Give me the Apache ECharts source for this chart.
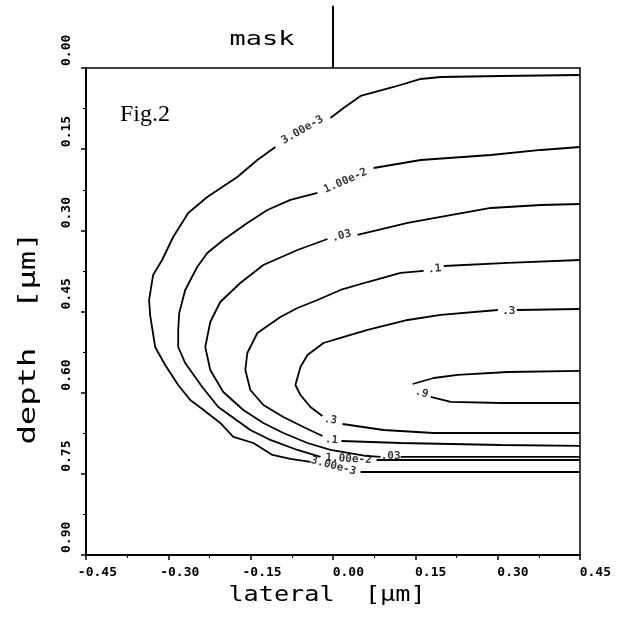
<!DOCTYPE html>
<html>
<head>
<meta charset="utf-8">
<script src="https://cdn.jsdelivr.net/npm/echarts@6/dist/echarts.min.js"></script>
<style>html,body{margin:0;padding:0;background:#fff}#c{width:628px;height:633px}</style>
</head>
<body>
<div id="c"></div>
<script>
// ---- tick labels ----
const xTickLabels = ['-0.45','-0.30','-0.15','0.00','0.15','0.30','0.45'];
const yTickLabels = ['0.00','0.15','0.30','0.45','0.60','0.75','0.90'];

// ---- contour lines (lateral, depth) in µm, each as segments broken at labels ----
const contour_3e3 = [
  [[0.45,0.0129],[0.3058,0.0148],[0.1963,0.0166],[0.1598,0.0203],[0.1105,0.0351],[0.0502,0.0517],[0.0192,0.0739],[-0.0046,0.0924]],
  [[-0.1050,0.1460],[-0.1378,0.1700],[-0.1743,0.2014],[-0.2291,0.2384],[-0.2638,0.2679],[-0.2912,0.3123],[-0.3113,0.3548],[-0.3277,0.3825],[-0.3350,0.4287],[-0.3332,0.4564],[-0.3240,0.5156],[-0.3058,0.5488],[-0.2820,0.5858],[-0.2601,0.6135],[-0.2382,0.6301],[-0.2054,0.6560],[-0.1816,0.6819],[-0.1451,0.6930],[-0.1104,0.7151],[-0.0776,0.7225],[-0.0411,0.7281]],
  [[0.0502,0.7466],[0.45,0.7466]]
];
const contour_1e2 = [
  [[0.45,0.1460],[0.3788,0.1515],[0.2875,0.1608],[0.1598,0.1700],[0.0740,0.1848]],
  [[-0.0283,0.2310],[-0.0776,0.2437],[-0.1196,0.2624],[-0.1561,0.2864],[-0.1999,0.3178],[-0.2291,0.3419],[-0.2474,0.3677],[-0.2693,0.4102],[-0.2802,0.4527],[-0.2820,0.4841],[-0.2820,0.5156],[-0.2693,0.5452],[-0.2382,0.5895],[-0.2090,0.6265],[-0.1506,0.6690],[-0.1141,0.6874],[-0.0648,0.7059],[-0.0228,0.7188]],
  [[0.0794,0.7244],[0.45,0.7244]]
];
const contour_03 = [
  [[0.45,0.2513],[0.3788,0.2532],[0.2875,0.2587],[0.1963,0.2753],[0.1360,0.2864],[0.0447,0.3085]],
  [[-0.0100,0.3160],[-0.0648,0.3363],[-0.1269,0.3640],[-0.1689,0.3973],[-0.2054,0.4324],[-0.2236,0.4694],[-0.2327,0.5156],[-0.2236,0.5581],[-0.1999,0.5987],[-0.1634,0.6320],[-0.1269,0.6560],[-0.0904,0.6745],[-0.0465,0.6930],[-0.0046,0.7059],[0.0593,0.7170],[0.0867,0.7188]],
  [[0.1232,0.7188],[0.45,0.7188]]
];
const contour_1 = [
  [[0.45,0.3548],[0.3186,0.3603],[0.2017,0.3659]],
  [[0.1652,0.3751],[0.1232,0.3788],[0.0630,0.3955],[0.0137,0.4102],[-0.0283,0.4287],[-0.0648,0.4435],[-0.0958,0.4601],[-0.1378,0.4897],[-0.1561,0.5267],[-0.1597,0.5581],[-0.1506,0.5951],[-0.1269,0.6228],[-0.0904,0.6450],[-0.0538,0.6635],[-0.0192,0.6801]],
  [[0.0155,0.6893],[0.1232,0.6930],[0.3058,0.6967],[0.45,0.6985]]
];
const contour_3 = [
  [[0.45,0.4454],[0.3350,0.4472]],
  [[0.3003,0.4472],[0.1963,0.4564],[0.1360,0.4657],[0.0630,0.4841],[0.0137,0.4989],[-0.0173,0.5082],[-0.0465,0.5304],[-0.0593,0.5525],[-0.0685,0.5858],[-0.0593,0.6043],[-0.0411,0.6265],[-0.0192,0.6431]],
  [[0.0174,0.6579],[0.0922,0.6690],[0.1835,0.6745],[0.45,0.6745]]
];
const contour_9 = [
  [[0.45,0.5599],[0.3186,0.5618],[0.2273,0.5673],[0.1835,0.5729],[0.1451,0.5840]],
  [[0.1780,0.6080],[0.2145,0.6172],[0.3058,0.6191],[0.45,0.6191]]
];

// ---- contour labels ----
const labelTexts = ['3.00e-3','1.00e-2','.03','.1','.3','.9','.3','.1','1.00e-2','.03','3.00e-3'];
const labelX =     [-0.0557, 0.0228, 0.0155, 0.1853, 0.3204, 0.1616, -0.0046, -0.0027, 0.0283, 0.1050, 0.0009];
const labelY =     [0.1146, 0.2088, 0.3104, 0.3714, 0.4491, 0.6006, 0.6505, 0.6874, 0.7225, 0.7170, 0.7355];

// mask edge (lateral 0), extending above the surface
const maskLine = [[0, 0], [0, -0.115]];

// ---- styles ----
const labelRotations = [30, 24, 15, 5, 0, -15, -8, -5, -3, 0, -15];
const lineStyle = { color: '#000', width: 1.8 };

const contours = [contour_3e3, contour_1e2, contour_03, contour_1, contour_3, contour_9];
const series = [];
contours.forEach(c => c.forEach(seg => series.push({
  type: 'line', data: seg, symbol: 'none', lineStyle: lineStyle, silent: true, animation: false
})));
series.push({
  type: 'line', data: maskLine, symbol: 'none', clip: false,
  lineStyle: { color: '#000', width: 2 }, animation: false
});
series.push({
  type: 'scatter', symbolSize: 0, animation: false, z: 5,
  data: labelTexts.map((t, i) => ({
    value: [labelX[i], labelY[i]],
    label: { show: true, formatter: t, rotate: labelRotations[i] }
  })),
  label: {
    show: true, position: 'inside', color: '#000',
    fontFamily: 'DejaVu Sans Mono', fontWeight: 'bold', fontSize: 11
  }
});

const monoBold = { fontFamily: 'DejaVu Sans Mono', fontWeight: 'bold', fontSize: 13, color: '#000' };

const chart = echarts.init(document.getElementById('c'), null, { renderer: 'canvas' });
chart.setOption({
  backgroundColor: '#fff',
  animation: false,
  grid: { left: 86, right: 48, top: 68, bottom: 78, show: true, borderColor: '#000', borderWidth: 1.5 },
  xAxis: {
    type: 'value', min: -0.45, max: 0.45, interval: 0.15,
    axisLine: { show: true, onZero: false, lineStyle: { color: '#000', width: 2 } },
    axisTick: { show: true, inside: false, length: 5, lineStyle: { color: '#000', width: 1.5 } },
    minorTick: { show: true, splitNumber: 2, length: 3, lineStyle: { color: '#000', width: 1 } },
    splitLine: { show: false },
    axisLabel: Object.assign({ margin: 11, align: 'right', padding: [0, -31, 0, 0],
      formatter: v => xTickLabels[Math.round((v + 0.45) / 0.15)] }, monoBold)
  },
  yAxis: {
    type: 'value', min: 0, max: 0.9, interval: 0.15, inverse: true,
    axisLine: { show: true, onZero: false, lineStyle: { color: '#000', width: 2 } },
    axisTick: { show: true, inside: false, length: 5, lineStyle: { color: '#000', width: 1.5 } },
    minorTick: { show: true, splitNumber: 2, length: 3, lineStyle: { color: '#000', width: 1 } },
    splitLine: { show: false },
    axisLabel: Object.assign({ margin: 13, rotate: 90, align: 'left', verticalAlign: 'bottom',
      padding: [0, 0, 0, 2],
      formatter: v => yTickLabels[Math.round(v / 0.15)] }, monoBold)
  },
  graphic: [
    { type: 'text', x: 262, y: 40, scaleX: 1.35,
      style: { text: 'mask', font: '20px "DejaVu Sans Mono"', fill: '#000', align: 'center', verticalAlign: 'middle' } },
    { type: 'text', x: 120, y: 115,
      style: { text: 'Fig.2', font: '24px "Liberation Serif"', fill: '#000', align: 'left', verticalAlign: 'middle' } },
    { type: 'text', x: 327, y: 596, scaleX: 1.2,
      style: { text: 'lateral  [µm]', font: '21px "DejaVu Sans Mono"', fill: '#000', align: 'center', verticalAlign: 'middle' } },
    { type: 'text', x: 29, y: 338, rotation: Math.PI / 2, scaleX: 1.4,
      style: { text: 'depth  [µm]', font: '23px "DejaVu Sans Mono"', fill: '#000', align: 'center', verticalAlign: 'middle' } }
  ],
  series: series
});
</script>
</body>
</html>
